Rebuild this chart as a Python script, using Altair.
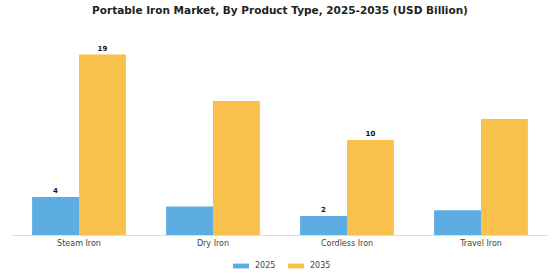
import altair as alt
import pandas as pd

categories = ["Steam Iron", "Dry Iron", "Cordless Iron", "Travel Iron"]
years = ["2025", "2035"]
values_2025 = [4.0, 3.0, 2.0, 2.6]
values_2035 = [19.0, 14.1, 10.0, 12.2]
labels_2025 = ["4", "", "2", ""]
labels_2035 = ["19", "", "10", ""]
colors = ["#5DADE2", "#F7C14C"]

rows = []
for i, c in enumerate(categories):
    rows.append({"cat": c, "year": "2025", "value": values_2025[i], "label": labels_2025[i]})
    rows.append({"cat": c, "year": "2035", "value": values_2035[i], "label": labels_2035[i]})
df = pd.DataFrame(rows)

x = alt.X("cat:N", sort=categories, title=None,
          scale=alt.Scale(paddingInner=0.3, paddingOuter=0.15),
          axis=alt.Axis(labelAngle=0, ticks=False, domainColor="#dddddd", labelColor="#444444",
                        labelFontSize=8, labelFont="DejaVu Sans", labelPadding=4))
y = alt.Y("value:Q", scale=alt.Scale(domain=[0, 20], nice=False), axis=None)
xo = alt.XOffset("year:N", sort=years)

bars = alt.Chart(df).mark_bar().encode(
    x=x, y=y, xOffset=xo,
    color=alt.Color("year:N", sort=years, scale=alt.Scale(domain=years, range=colors),
                    legend=alt.Legend(title=None, orient="none", direction="horizontal",
                                      legendX=221, legendY=213,
                                      symbolType="M-1,-0.3L1,-0.3L1,0.3L-1,0.3Z",
                                      symbolSize=256, symbolStrokeWidth=0,
                                      labelFontSize=8, labelFont="DejaVu Sans", labelColor="#444444",
                                      columnPadding=12, labelOffset=6)),
)

text = alt.Chart(df).mark_text(dy=-6, fontSize=7, fontWeight="bold", font="DejaVu Sans", color="#111111").encode(
    x=x, y=y, xOffset=xo, text="label:N"
)

chart = (bars + text).properties(
    width=536, height=190,
    title=alt.TitleParams("Portable Iron Market, By Product Type, 2025-2035 (USD Billion)",
                          fontSize=10.5, font="DejaVu Sans", fontWeight="bold", color="#222222",
                          anchor="middle", offset=28),
    autosize=alt.AutoSizeParams(type="none"),
    padding={"left": 12, "right": 12, "top": 45, "bottom": 45},
).configure_view(stroke=None).configure_axis(grid=False)

chart.save("out.html", embed_options={"renderer": "svg", "actions": False})
